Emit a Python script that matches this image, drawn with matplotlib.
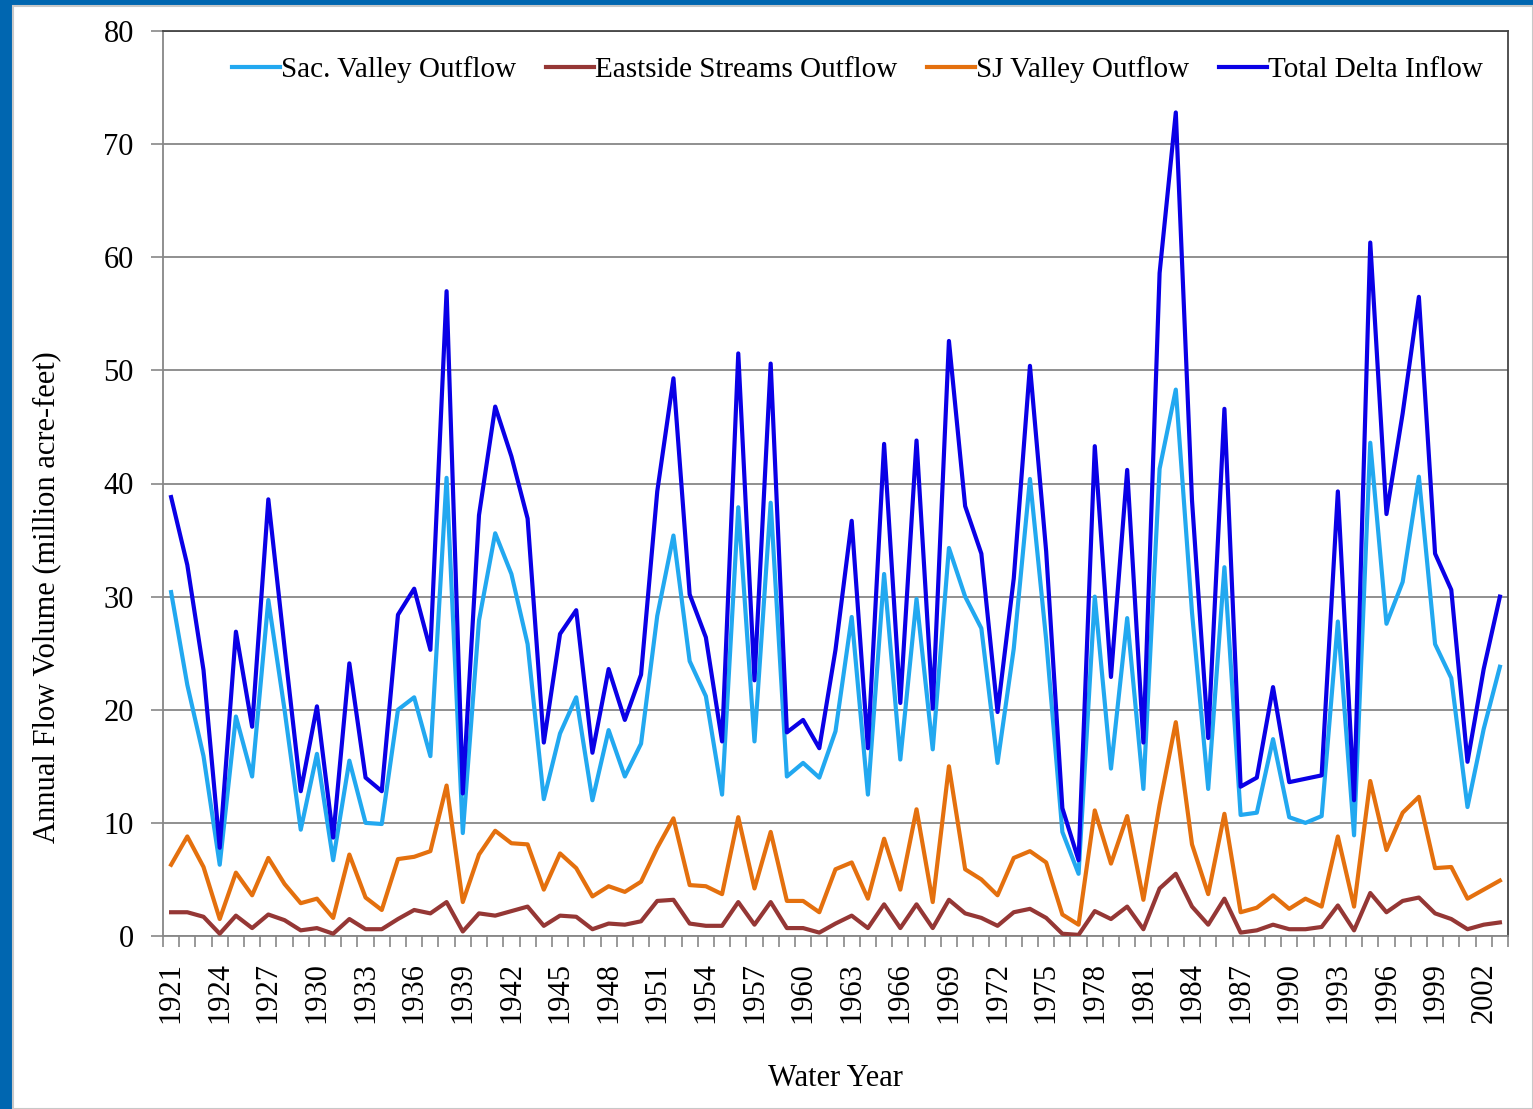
import numpy as np
import matplotlib
matplotlib.use('Agg')
import matplotlib.pyplot as plt
from matplotlib.patches import Rectangle

# Water years 1921-2003
years = list(range(1921, 2004))

sac_valley = [30.4, 22.2, 15.9, 6.3, 19.4, 14.1, 29.7, 20.0, 9.4, 16.1,
              6.7, 15.5, 10.0, 9.9, 20.0, 21.1, 15.9, 40.5, 9.1, 27.9,
              35.6, 32.0, 25.8, 12.1, 17.9, 21.1, 12.0, 18.2, 14.1, 17.0,
              28.3, 35.4, 24.3, 21.2, 12.5, 37.9, 17.2, 38.3, 14.1, 15.3,
              14.0, 18.1, 28.2, 12.5, 32.0, 15.6, 29.8, 16.5, 34.3, 30.0,
              27.2, 15.3, 25.4, 40.4, 26.2, 9.2, 5.5, 30.0, 14.8, 28.1,
              13.0, 41.3, 48.3, 28.6, 13.0, 32.6, 10.7, 10.9, 17.4, 10.5,
              10.0, 10.6, 27.8, 8.9, 43.6, 27.6, 31.3, 40.6, 25.8, 22.8,
              11.4, 18.3, 23.8]

eastside = [2.1, 2.1, 1.7, 0.2, 1.8, 0.7, 1.9, 1.4, 0.5, 0.7,
            0.2, 1.5, 0.6, 0.6, 1.5, 2.3, 2.0, 3.0, 0.4, 2.0,
            1.8, 2.2, 2.6, 0.9, 1.8, 1.7, 0.6, 1.1, 1.0, 1.3,
            3.1, 3.2, 1.1, 0.9, 0.9, 3.0, 1.0, 3.0, 0.7, 0.7,
            0.3, 1.1, 1.8, 0.7, 2.8, 0.7, 2.8, 0.7, 3.2, 2.0,
            1.6, 0.9, 2.1, 2.4, 1.6, 0.2, 0.1, 2.2, 1.5, 2.6,
            0.6, 4.2, 5.5, 2.6, 1.0, 3.3, 0.3, 0.5, 1.0, 0.6,
            0.6, 0.8, 2.7, 0.5, 3.8, 2.1, 3.1, 3.4, 2.0, 1.5,
            0.6, 1.0, 1.2]

sj_valley = [6.3, 8.8, 6.1, 1.5, 5.6, 3.6, 6.9, 4.6, 2.9, 3.3,
             1.6, 7.2, 3.4, 2.3, 6.8, 7.0, 7.5, 13.3, 3.0, 7.2,
             9.3, 8.2, 8.1, 4.1, 7.3, 6.0, 3.5, 4.4, 3.9, 4.8,
             7.8, 10.4, 4.5, 4.4, 3.7, 10.5, 4.2, 9.2, 3.1, 3.1,
             2.1, 5.9, 6.5, 3.3, 8.6, 4.1, 11.2, 3.0, 15.0, 5.9,
             5.0, 3.6, 6.9, 7.5, 6.5, 1.9, 1.0, 11.1, 6.4, 10.6,
             3.2, 11.6, 18.9, 8.1, 3.7, 10.8, 2.1, 2.5, 3.6, 2.4,
             3.3, 2.6, 8.8, 2.6, 13.7, 7.6, 10.9, 12.3, 6.0, 6.1,
             3.3, 4.1, 4.9]

total_delta = [38.8, 32.8, 23.5, 7.8, 26.9, 18.5, 38.6, 25.5, 12.8, 20.3,
               8.7, 24.1, 14.0, 12.8, 28.4, 30.7, 25.3, 57.0, 12.6, 37.2,
               46.8, 42.4, 36.9, 17.1, 26.7, 28.8, 16.2, 23.6, 19.1, 23.1,
               39.3, 49.3, 30.2, 26.4, 17.2, 51.5, 22.6, 50.6, 18.0, 19.1,
               16.6, 25.3, 36.7, 16.6, 43.5, 20.6, 43.8, 20.1, 52.6, 38.0,
               33.8, 19.8, 31.6, 50.4, 34.0, 11.3, 6.7, 43.3, 22.9, 41.2,
               17.1, 58.6, 72.8, 38.5, 17.5, 46.6, 13.2, 14.0, 22.0, 13.6,
               13.9, 14.2, 39.3, 12.0, 61.3, 37.3, 46.2, 56.5, 33.8, 30.6,
               15.4, 23.6, 30.0]

plt.rcParams['font.family'] = ['Liberation Serif', 'DejaVu Serif']

fig = plt.figure(figsize=(15.33, 11.09), dpi=100)
fig.patch.set_facecolor('#0066b0')
# white slide area inside the blue frame (drawn behind the axes)
fig.add_artist(Rectangle((13 / 1533, 0), 1 - 13 / 1533, 1 - 6 / 1109,
                         transform=fig.transFigure, facecolor='white',
                         edgecolor='#c8c8c8', linewidth=1.5, zorder=-10))

ax = fig.add_axes([163 / 1533, 1 - 936 / 1109, (1508 - 163) / 1533, (936 - 31) / 1109])
ax.set_facecolor('white')

x = np.arange(len(years))
ax.plot(x, sac_valley, color='#22a8f0', lw=3, label='Sac. Valley Outflow', zorder=3)
ax.plot(x, eastside, color='#953735', lw=3, label='Eastside Streams Outflow', zorder=3)
ax.plot(x, sj_valley, color='#e4700e', lw=3, label='SJ Valley Outflow', zorder=3)
ax.plot(x, total_delta, color='#0a00e6', lw=3, label='Total Delta Inflow', zorder=3)

ax.set_xlim(-0.5, len(years) - 0.5)
ax.set_ylim(0, 80)
ax.set_yticks(range(0, 81, 10))
ax.yaxis.grid(True, color='#878787', lw=1.3)
ax.set_axisbelow(True)

# tick marks at category boundaries, labels every third year
ax.set_xticks(np.arange(-0.5, len(years), 1.0), minor=True)
ax.set_xticks(x[::3])
ax.set_xticklabels([str(y) for y in years[::3]], rotation=90)
ax.tick_params(axis='x', which='major', length=0, pad=19, labelsize=22)
ax.tick_params(axis='x', which='minor', length=8, color='#878787', width=1.2)
ax.tick_params(axis='y', length=9, color='#878787', width=1.2, labelsize=22, pad=12)

for side in ['left', 'bottom']:
    ax.spines[side].set_color('#878787')
    ax.spines[side].set_linewidth(1.3)
for side in ['top', 'right']:
    ax.spines[side].set_color('#444444')
    ax.spines[side].set_linewidth(1.3)

ax.set_xlabel('Water Year', fontsize=22, labelpad=29)
ax.set_ylabel('Annual Flow Volume (million acre-feet)', fontsize=22)
# y label sits a little below the middle of the axis in the original
ax.yaxis.set_label_coords(-0.076, 0.374)

ax.legend(loc='center right', ncol=4, frameon=False, fontsize=21,
          handlelength=1.65, handletextpad=0.05, columnspacing=1.0,
          borderpad=0, borderaxespad=0,
          bbox_to_anchor=((1483 - 163) / 1345, (936 - 70) / 905))

fig.savefig('out.png', dpi=100, facecolor=fig.get_facecolor())
